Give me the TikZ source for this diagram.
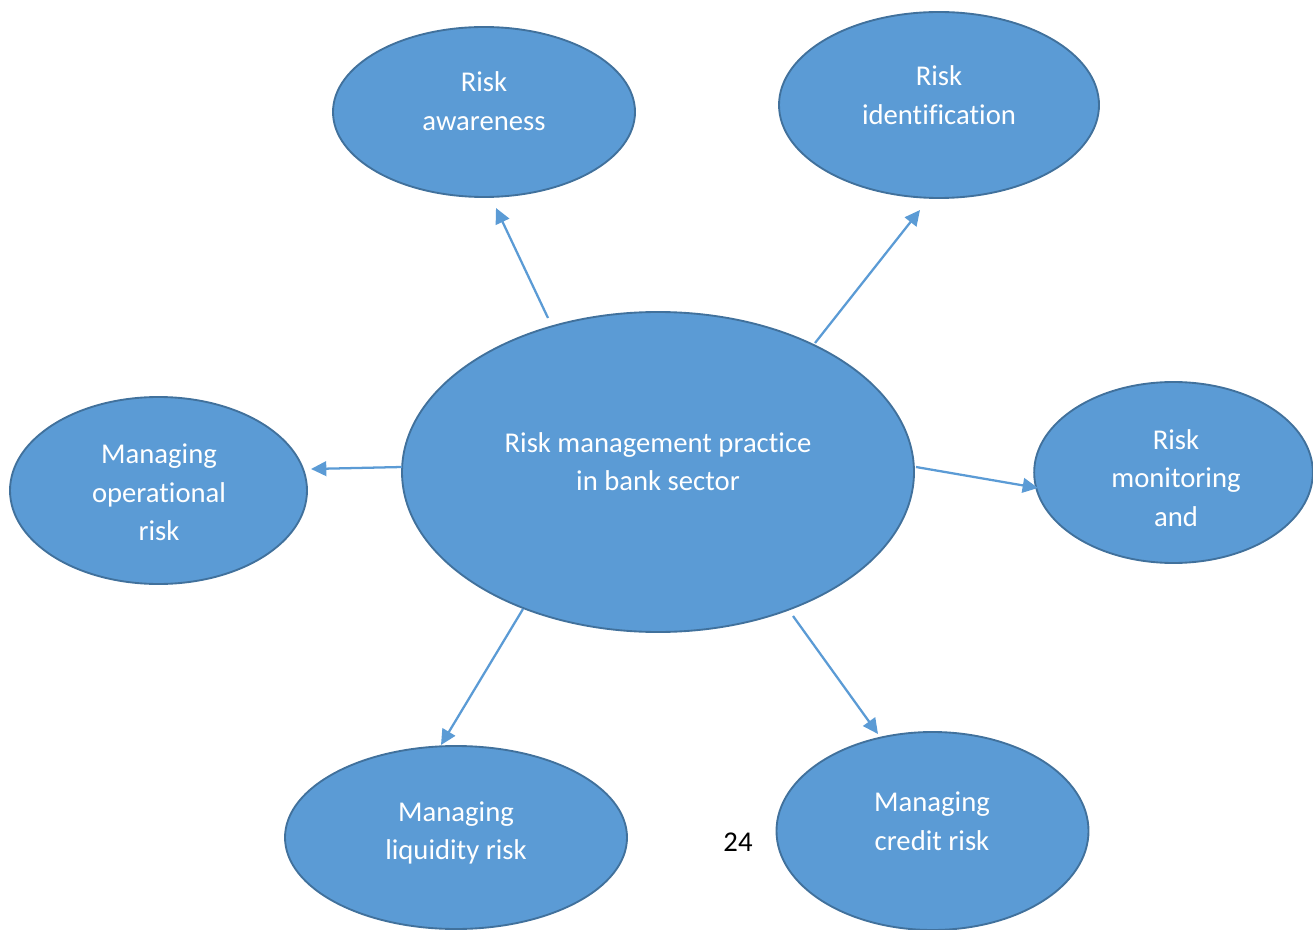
\documentclass[tikz,border=0pt]{standalone}
\usepackage{fontspec}
\setmainfont{Carlito}[Ligatures=NoCommon]
\usetikzlibrary{shapes.geometric,arrows.meta,calc}
\definecolor{bubble}{HTML}{5B9BD5}
\definecolor{bubbleedge}{HTML}{41719C}
\tikzset{
  bubble/.style={ellipse, draw=bubbleedge, line width=1.4pt, fill=bubble, inner sep=0pt},
  caption/.style={text=white, align=center, font=\fontsize{21.5pt}{29pt}\selectfont},
  link/.style={draw=bubble, line width=1.7pt, -{Triangle[length=11.5pt,width=11pt]}}
}
\begin{document}
\begin{tikzpicture}[x=0.75pt,y=-0.75pt]
  \useasboundingbox (0,0) rectangle (1313,930);

  % bubbles
  \node[bubble, minimum width=384pt, minimum height=240pt] (c)   at (658,472) {};
  \node[bubble, minimum width=226.5pt, minimum height=127.5pt] (aw) at (484,112) {};
  \node[bubble, minimum width=240pt, minimum height=139.5pt] (id)  at (939,105) {};
  \node[bubble, minimum width=209pt, minimum height=135.75pt] (mon) at (1173.5,472.5) {};
  \node[bubble, minimum width=222.75pt, minimum height=140.25pt] (op) at (158.5,490.5) {};
  \node[bubble, minimum width=256.5pt, minimum height=137.25pt] (liq) at (456,837.5) {};
  \node[bubble, minimum width=234pt, minimum height=148.5pt] (cr)  at (932.5,831) {};

  % captions
  \node[caption] (ct)   at (658,461.5) {Risk management practice\\in bank sector};
  \node[caption] (awt)  at (484,101) {Risk\\awareness};
  \node[caption] (idt)  at (939,95) {Risk\\identification};
  \node[caption] (mont) at (1176,478) {Risk\\monitoring\\and};
  \node[caption] (opt)  at (159,492.5) {Managing\\operational\\risk};
  \node[caption] (liqt) at (456,833) {Managing\\liquidity risk};
  \node[caption] (crt)  at (932,821) {Managing\\credit risk};

  % page number
  \node[font=\fontsize{21.5pt}{24pt}\selectfont, text=black] (pg) at (738,842) {24};

  % arrows from the centre bubble
  \draw[link] ($(c)+(-110,-154)$) -- ($(aw)+(12,96)$);
  \draw[link] ($(c)+(157,-129)$) -- ($(id)+(-19,105)$);
  \draw[link] ($(c)+(258,-5)$) -- ($(mon)+(-135.5,15.5)$);
  \draw[link] ($(c)+(-256,-5)$) -- ($(op)+(152.5,-21.5)$);
  \draw[link] ($(c)+(-135,137)$) -- ($(liq)+(-15,-92.5)$);
  \draw[link] ($(c)+(135,144)$) -- ($(cr)+(-54.5,-97)$);
\end{tikzpicture}
\end{document}
